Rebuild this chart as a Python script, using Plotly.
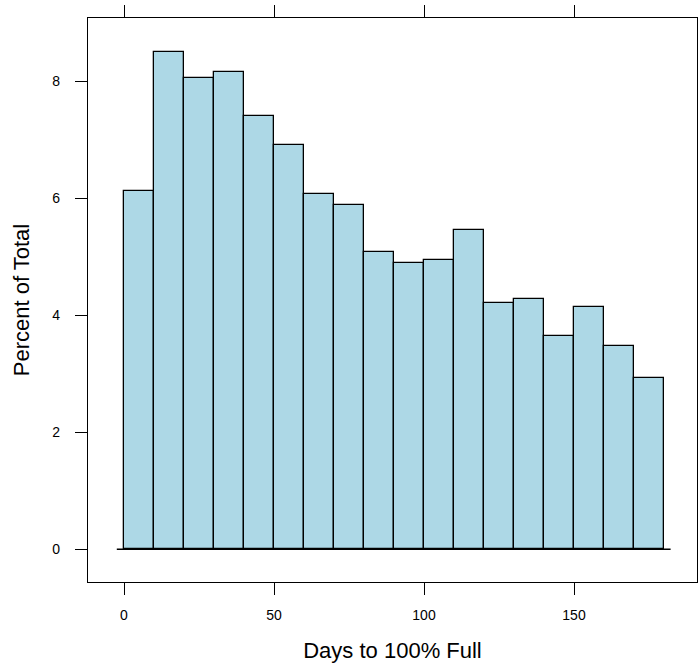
import plotly.graph_objects as go

# Histogram of days until the tank reached 100% full, 10-day bins
bin_left = [0, 10, 20, 30, 40, 50, 60, 70, 80, 90,
            100, 110, 120, 130, 140, 150, 160, 170]
bin_width = 10
percent_of_total = [6.12, 8.50, 8.06, 8.16, 7.40, 6.91, 6.08, 5.89, 5.08,
                    4.89, 4.95, 5.46, 4.21, 4.28, 3.64, 4.14, 3.48, 2.93]
x_ticks = [0, 50, 100, 150]
y_ticks = [0, 2, 4, 6, 8]

font_family = "Liberation Sans, Arial, sans-serif"

fig = go.Figure()
fig.add_trace(go.Bar(
    x=bin_left,
    y=percent_of_total,
    width=bin_width,
    offset=0,
    marker=dict(color="#ADD8E6", line=dict(color="black", width=1.3)),
    hoverinfo="skip",
))

# baseline under the bars, running a little past both ends
fig.add_shape(type="line", xref="x", yref="y",
              x0=bin_left[0] - 2.4, x1=bin_left[-1] + bin_width + 2.2,
              y0=0, y1=0, line=dict(color="black", width=1.3))

fig.update_layout(
    width=700, height=665,
    margin=dict(l=88, r=3, t=18, b=83),
    paper_bgcolor="white", plot_bgcolor="white",
    showlegend=False,
    font=dict(family=font_family, color="black"),
    bargap=0,
)
fig.update_xaxes(
    range=[-12, 191],
    tickvals=x_ticks, ticktext=[str(v) for v in x_ticks],
    ticks="outside", ticklen=12, tickwidth=1.3, tickcolor="black",
    showline=True, linecolor="black", linewidth=1.3, mirror="ticks",
    showgrid=False, zeroline=False,
    tickfont=dict(size=14), ticklabelstandoff=8,
    title=dict(text="Days to 100% Full", font=dict(size=22), standoff=20),
)
fig.update_yaxes(
    range=[-0.56, 9.08],
    tickvals=y_ticks, ticktext=[str(v) for v in y_ticks],
    ticks="outside", ticklen=12, tickwidth=1.3, tickcolor="black",
    showline=True, linecolor="black", linewidth=1.3, mirror=True,
    showgrid=False, zeroline=False,
    tickfont=dict(size=14), ticklabelstandoff=12,
    title=dict(text="Percent of Total", font=dict(size=22), standoff=16),
)

fig.write_html("out.html")
